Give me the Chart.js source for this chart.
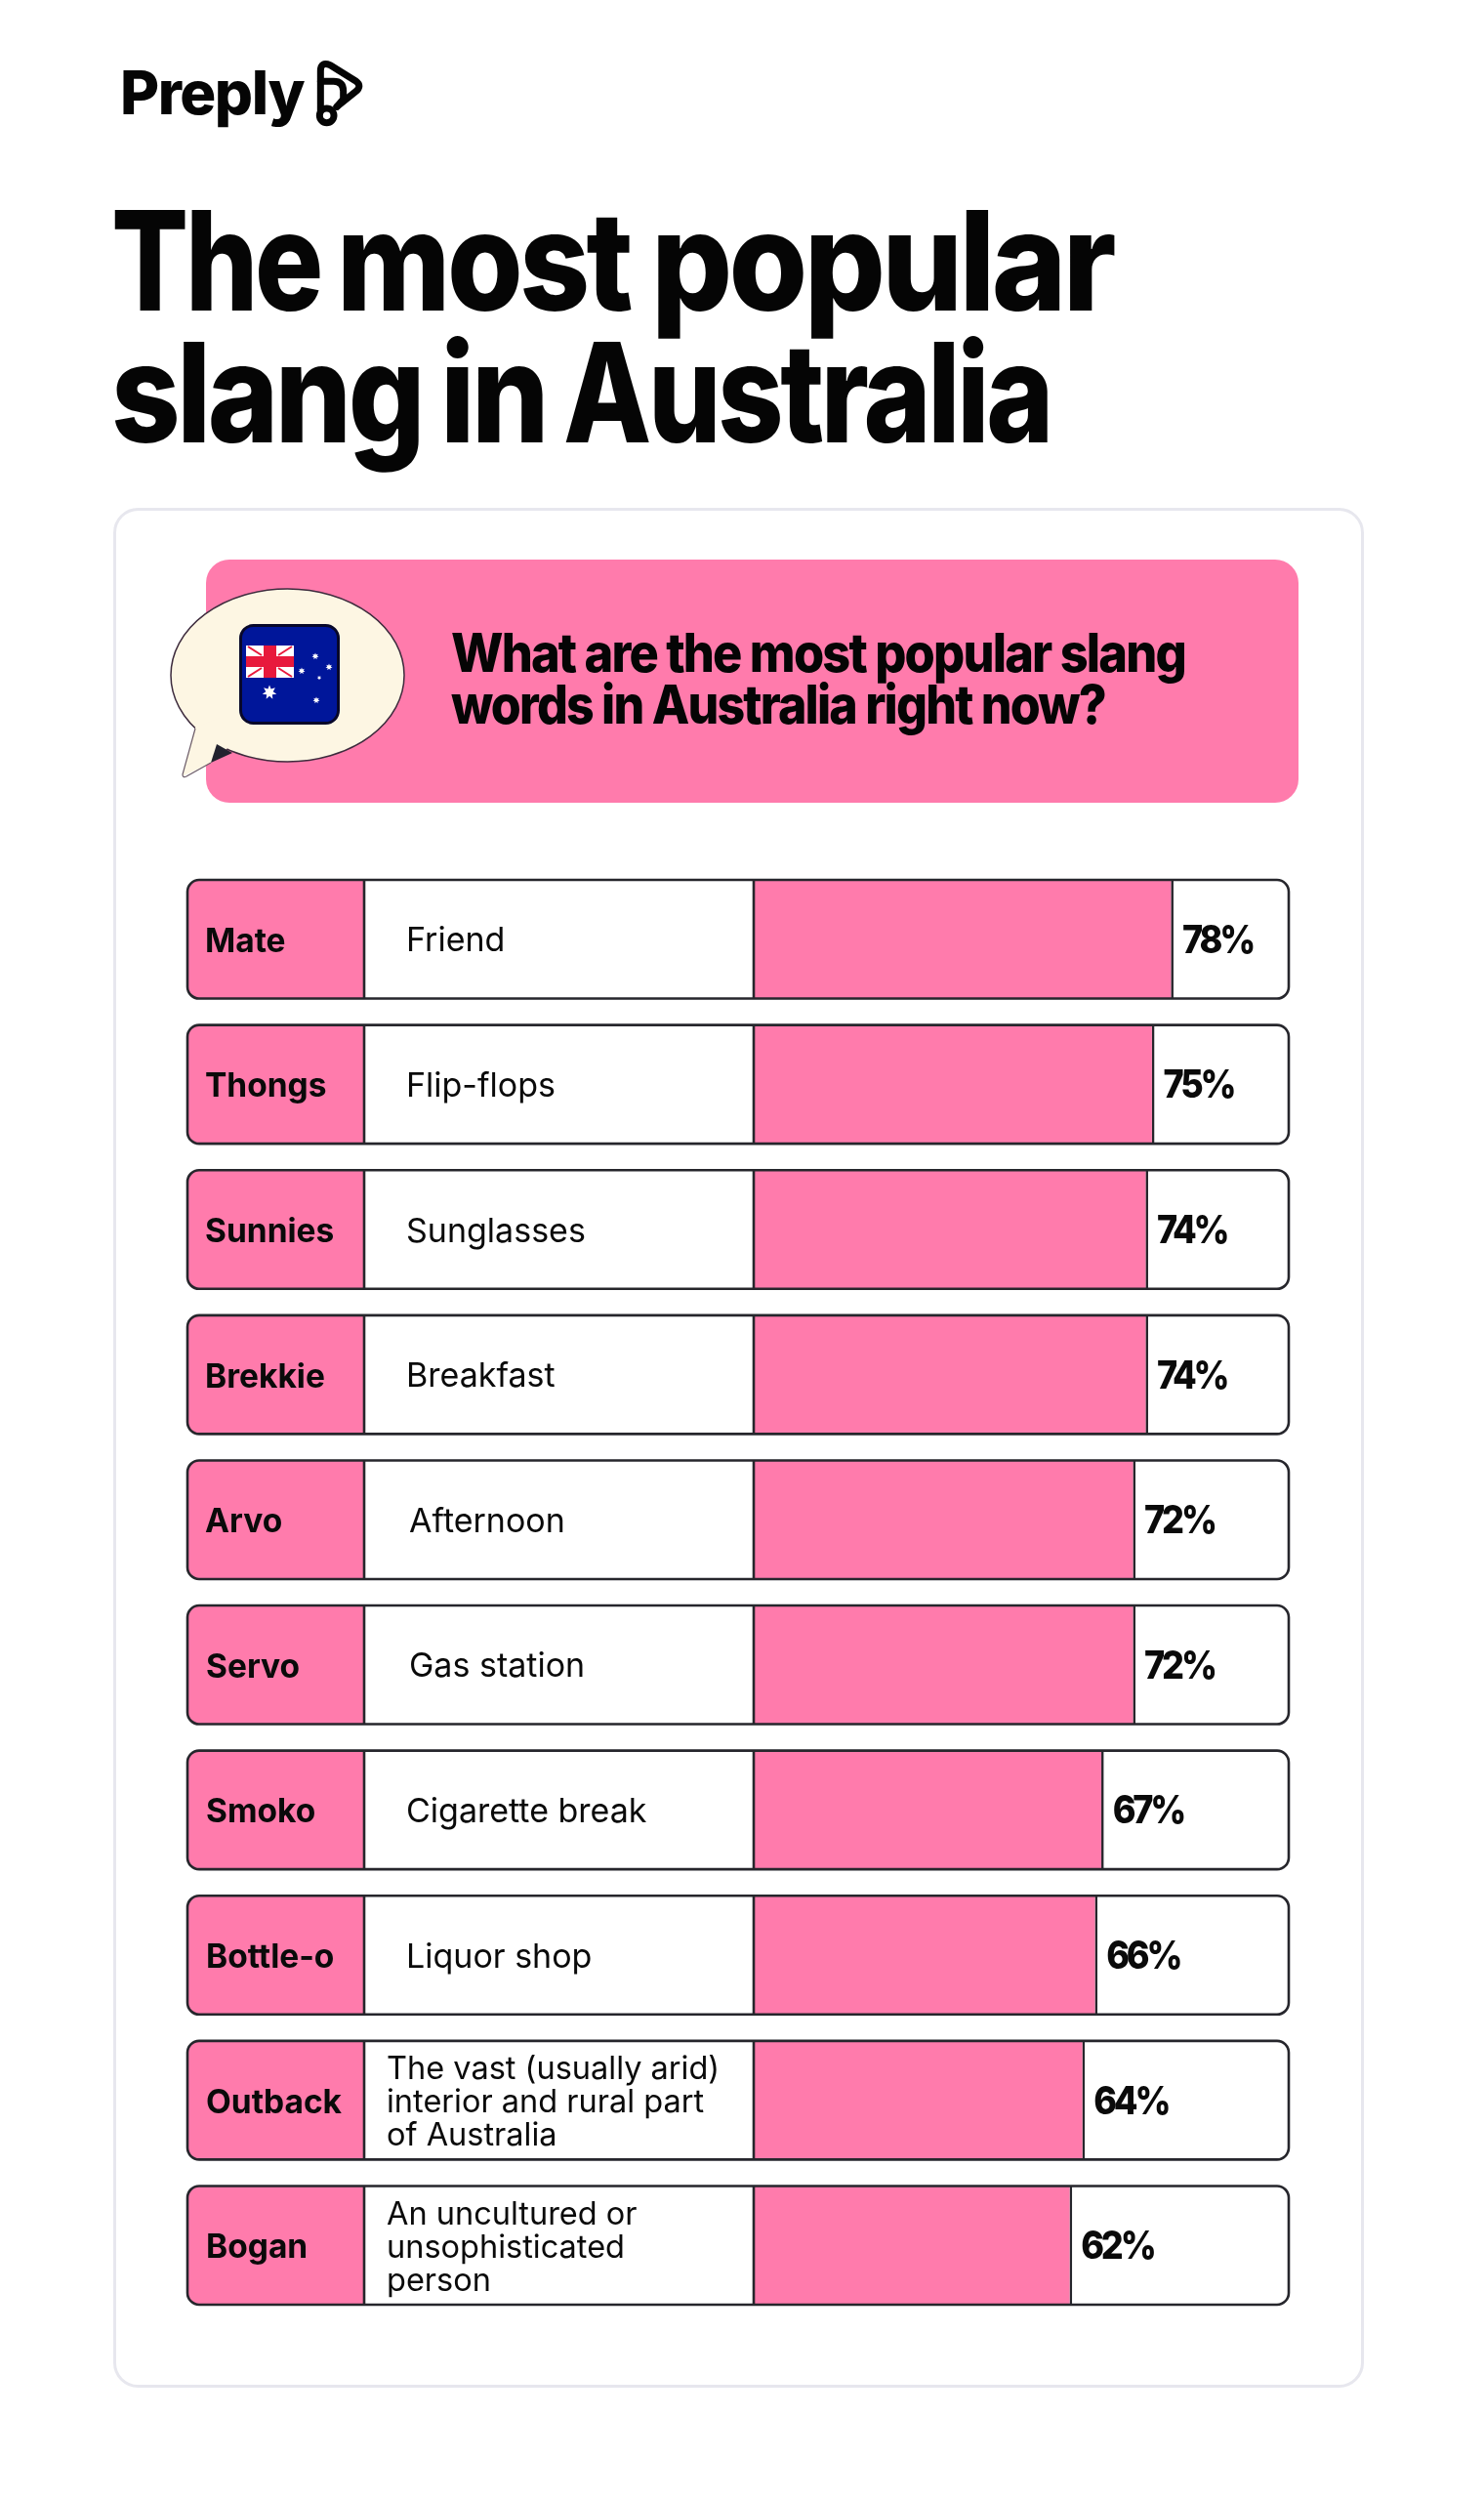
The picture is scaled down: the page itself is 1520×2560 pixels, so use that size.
<!DOCTYPE html>
<html lang="en">
<head>
<meta charset="utf-8">
<title>The most popular slang in Australia</title>
<script src="https://cdn.jsdelivr.net/npm/chart.js@4"></script>
<style>
	html, body { margin: 0; padding: 0; background: #fff; }
	#page { position: relative; width: 1520px; height: 2560px; overflow: hidden; font-family: Inter, sans-serif; }
	#deco, #chart { position: absolute; left: 0; top: 0; }
	#deco text { font-family: Inter, sans-serif; fill: #050505; }
</style>
</head>
<body>
<div id="page">
	<svg id="deco" width="1520" height="2560" viewBox="0 0 1520 2560" xmlns="http://www.w3.org/2000/svg">
		<!-- logo -->
		<text x="123" y="116.5" font-size="62" font-weight="800" letter-spacing="-1.5" textLength="188" lengthAdjust="spacingAndGlyphs">Preply</text>
		<svg x="110" y="50" width="280" height="90" viewBox="0 0 840 270">
			<g fill="none" stroke="#050505" stroke-width="21" stroke-linejoin="round" stroke-linecap="round">
				<path d="M655 190 L655 68 Q655 38 685 50 L762 98 Q785 114 762 132 L705 178"/>
				<path d="M655 100 L695 100 Q725 100 725 130 L725 155 L705 178"/>
				<circle cx="674" cy="205" r="22"/>
			</g>
		</svg>

		<!-- title, word by word so the gaps land where they do in the picture -->
		<text y="318" font-size="141" font-weight="800" letter-spacing="-4"><tspan x="114" textLength="214" lengthAdjust="spacingAndGlyphs">The</tspan> <tspan x="345" textLength="300" lengthAdjust="spacingAndGlyphs">most</tspan> <tspan x="667" textLength="473" lengthAdjust="spacingAndGlyphs">popular</tspan></text>
		<text y="453" font-size="141" font-weight="800" letter-spacing="-4"><tspan x="114" textLength="318" lengthAdjust="spacingAndGlyphs">slang</tspan> <tspan x="451" textLength="108" lengthAdjust="spacingAndGlyphs">in</tspan> <tspan x="577" textLength="499" lengthAdjust="spacingAndGlyphs">Australia</tspan></text>

		<!-- card and question banner -->
		<rect x="117.5" y="521.5" width="1278" height="1922" rx="24" fill="#fff" stroke="#e7e7ee" stroke-width="3"/>
		<rect x="211" y="573" width="1119" height="249" rx="24" fill="#ff7bac"/>
		<text x="462" y="688" font-size="55" font-weight="800" letter-spacing="-2" textLength="752" lengthAdjust="spacingAndGlyphs">What are the most popular slang</text>
		<text x="462" y="740.5" font-size="55" font-weight="800" letter-spacing="-2" textLength="670" lengthAdjust="spacingAndGlyphs">words in Australia right now?</text>

		<!-- speech bubble -->
		<ellipse cx="294.5" cy="691.5" rx="119.5" ry="88.5" fill="#fdf6e3" stroke="#3d2b3d" stroke-width="1.5"/>
		<polygon points="200,745 187,795 216,781 240,760 225,735" fill="#fdf6e3"/>
		<path d="M200 746 L187 793 Q187 797 191 795 L216 781" fill="none" stroke="#6a5a66" stroke-width="1.2"/>
		<polygon points="222,762 216,781 238,771" fill="#22222e"/>

		<!-- flag -->
		<g id="flag">
			<rect x="246.5" y="640.5" width="100" height="100" rx="13" fill="#00169a" stroke="#08082a" stroke-width="3"/>
			<rect x="252" y="661" width="49" height="33" fill="#fff"/>
			<g stroke="#e8193c" stroke-width="2">
				<line x1="254" y1="662" x2="268" y2="671"/>
				<line x1="299" y1="662" x2="285" y2="671"/>
				<line x1="254" y1="693" x2="268" y2="684"/>
				<line x1="299" y1="693" x2="285" y2="684"/>
			</g>
			<rect x="270" y="661" width="13" height="33" fill="#e8193c"/>
			<rect x="252" y="672" width="49" height="11" fill="#e8193c"/>
		</g>
	</svg>
	<canvas id="chart" width="1520" height="2560"></canvas>
</div>

<script>
	const slangWords = [ 'Mate', 'Thongs', 'Sunnies', 'Brekkie', 'Arvo', 'Servo', 'Smoko', 'Bottle-o', 'Outback', 'Bogan' ];
	const meanings = [
		[ 'Friend' ],
		[ 'Flip-flops' ],
		[ 'Sunglasses' ],
		[ 'Breakfast' ],
		[ 'Afternoon' ],
		[ 'Gas station' ],
		[ 'Cigarette break' ],
		[ 'Liquor shop' ],
		[ 'The vast (usually arid)', 'interior and rural part', 'of Australia' ],
		[ 'An uncultured or', 'unsophisticated', 'person' ],
	];
	const popularity = [ 78, 75, 74, 74, 72, 72, 67, 66, 64, 62 ];

	const PINK = '#ff7bac';
	const INK = '#26262c';
	const ROW_HEIGHT = 121.5;
	const ROW_PITCH = 148.6;

	// Flag stars, small white seven-point polygons.
	function addStar( cx, cy, r ) {
		const pts = [];
		for ( let i = 0; i < 14; i++ ) {
			const rad = i % 2 ? r * 0.5 : r;
			const a = -Math.PI / 2 + i * Math.PI / 7;
			pts.push( ( cx + rad * Math.cos( a ) ).toFixed( 1 ) + ',' + ( cy + rad * Math.sin( a ) ).toFixed( 1 ) );
		}
		const star = document.createElementNS( 'http://www.w3.org/2000/svg', 'polygon' );
		star.setAttribute( 'points', pts.join( ' ' ) );
		star.setAttribute( 'fill', '#fff' );
		document.getElementById( 'flag' ).appendChild( star );
	}
	[ [ 323, 672, 3.6 ], [ 337, 683, 3.6 ], [ 309, 687, 3.6 ], [ 327, 694, 2.2 ], [ 324, 717, 3.6 ], [ 276, 709, 7.5 ] ]
		.forEach( ( s ) => addStar( s[ 0 ], s[ 1 ], s[ 2 ] ) );

	function rowBox( chart, i ) {
		const { x, y } = chart.scales;
		const cy = y.getPixelForValue( i );
		return { left: 192, right: x.right, top: cy - ROW_HEIGHT / 2, cy };
	}

	// Row frames: pink word cell, white meaning cell, white bar track.
	const rowFrames = {
		id: 'rowFrames',
		beforeDraw( chart ) {
			const ctx = chart.ctx;
			slangWords.forEach( ( w, i ) => {
				const b = rowBox( chart, i );
				ctx.save();
				ctx.beginPath();
				ctx.roundRect( b.left, b.top, b.right - b.left, ROW_HEIGHT, 12 );
				ctx.fillStyle = '#fff';
				ctx.fill();
				ctx.clip();
				ctx.fillStyle = PINK;
				ctx.fillRect( b.left, b.top, 373 - b.left, ROW_HEIGHT );
				ctx.restore();
			} );
		},
		afterDatasetsDraw( chart ) {
			const ctx = chart.ctx;
			const meta = chart.getDatasetMeta( 0 );
			const barLeft = chart.scales.x.left;
			slangWords.forEach( ( w, i ) => {
				const b = rowBox( chart, i );
				ctx.save();
				ctx.strokeStyle = INK;
				ctx.lineWidth = 2.6;
				ctx.beginPath();
				ctx.roundRect( b.left, b.top, b.right - b.left, ROW_HEIGHT, 12 );
				ctx.moveTo( 373, b.top );
				ctx.lineTo( 373, b.top + ROW_HEIGHT );
				ctx.moveTo( barLeft, b.top );
				ctx.lineTo( barLeft, b.top + ROW_HEIGHT );
				ctx.stroke();

				ctx.fillStyle = '#0a0a0a';
				ctx.textBaseline = 'alphabetic';
				ctx.textAlign = 'left';

				// Slang word, read back from the category axis.
				ctx.font = '700 33.5px Inter, sans-serif';
				ctx.fillText( chart.scales.y.getLabelForValue( i ), i < 5 ? 210 : 211, b.cy + 13 );

				// Meaning text, one or three lines.
				const lines = meanings[ i ];
				ctx.font = lines.length > 1 ? '400 32.5px Inter, sans-serif' : '400 34px Inter, sans-serif';
				const tx = lines.length > 1 ? 396 : ( i === 4 || i === 5 ? 419 : 416 );
				lines.forEach( ( line, n ) => {
					ctx.fillText( line, tx, b.cy + 12.5 + ( n - ( lines.length - 1 ) / 2 ) * 34 );
				} );

				// Percent label just past the end of the bar, narrowed to the picture's face.
				ctx.translate( meta.data[ i ].x + 9, b.cy + 14 );
				ctx.scale( 0.9, 1 );
				ctx.font = '800 40px Inter, sans-serif';
				ctx.letterSpacing = '-3.5px';
				ctx.fillText( popularity[ i ] + '%', 0, 0 );
				ctx.restore();
			} );
		},
	};

	new Chart( document.getElementById( 'chart' ), {
		type: 'bar',
		data: {
			labels: slangWords,
			datasets: [ {
				data: popularity,
				backgroundColor: PINK,
				borderColor: INK,
				borderWidth: { left: 0, top: 0, bottom: 0, right: 2.6 },
				borderSkipped: false,
				barPercentage: ROW_HEIGHT / ROW_PITCH,
				categoryPercentage: 1,
			} ],
		},
		options: {
			indexAxis: 'y',
			responsive: false,
			animation: false,
			devicePixelRatio: 1,
			layout: { padding: { left: 211, right: 200, top: 887.5, bottom: 186.5 } },
			plugins: { legend: { display: false }, tooltip: { enabled: false } },
			scales: {
				// The picture's bars do not start at zero, so the hidden axis does not either.
				x: { display: false, min: 11.7, max: 96.2 },
				y: {
					afterFit: ( scale ) => { scale.width = 561; },
					grid: { display: false, drawTicks: false },
					border: { display: false },
					ticks: { display: false, autoSkip: false },
				},
			},
		},
		plugins: [ rowFrames ],
	} );
</script>
</body>
</html>
